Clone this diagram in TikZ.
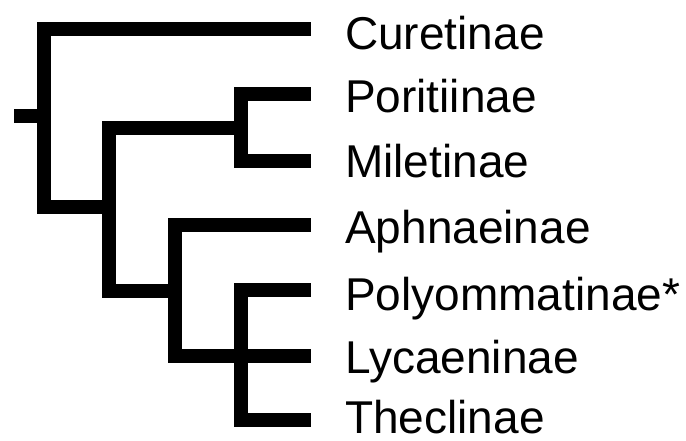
\documentclass[tikz,border=0pt]{standalone}
\usepackage{fontspec}
\setmainfont{Liberation Sans}
\begin{document}
\begin{tikzpicture}[x=1pt,y=-1pt,
  branch/.style={line width=14pt, line cap=butt, line join=miter, draw=black},
  taxon/.style={anchor=base west, inner sep=0pt, font=\fontsize{46}{50}\selectfont, text=black}]
\useasboundingbox (0,0) rectangle (686,440);
% tips
\coordinate (tCur) at (311,29);
\coordinate (tPor) at (311,94);
\coordinate (tMil) at (311,161);
\coordinate (tAph) at (311,225);
\coordinate (tPol) at (311,290);
\coordinate (tLyc) at (311,356);
\coordinate (tThe) at (311,420);
% internal nodes
\coordinate (root) at (14,116);
\coordinate (n1) at (44,116);
\coordinate (n2) at (109,207);
\coordinate (n3) at (241,128);
\coordinate (n4) at (175,291);
\coordinate (n5) at (241,356);
% branches
\draw[branch] (root) -- (n1);
\draw[branch] (n1) |- (tCur);
\draw[branch] (n1) |- (n2);
\draw[branch] (n2) |- (n3);
\draw[branch] (n2) |- (n4);
\draw[branch] (n3) |- (tPor);
\draw[branch] (n3) |- (tMil);
\draw[branch] (n4) |- (tAph);
\draw[branch] (n4) |- (n5);
\draw[branch] (n5) |- (tPol);
\draw[branch] (n5) -- (tLyc);
\draw[branch] (n5) |- (tThe);
% labels
\node[taxon] (lCur) at (345,49) {Curetinae};
\node[taxon] (lPor) at (345,112) {Poritiinae};
\node[taxon] (lMil) at (345,177) {Miletinae};
\node[taxon] (lAph) at (345,243) {Aphnaeinae};
\node[taxon] (lPol) at (345,310) {Polyommatinae*};
\node[taxon] (lLyc) at (345,373) {Lycaeninae};
\node[taxon] (lThe) at (345,433) {Theclinae};
\end{tikzpicture}
\end{document}
